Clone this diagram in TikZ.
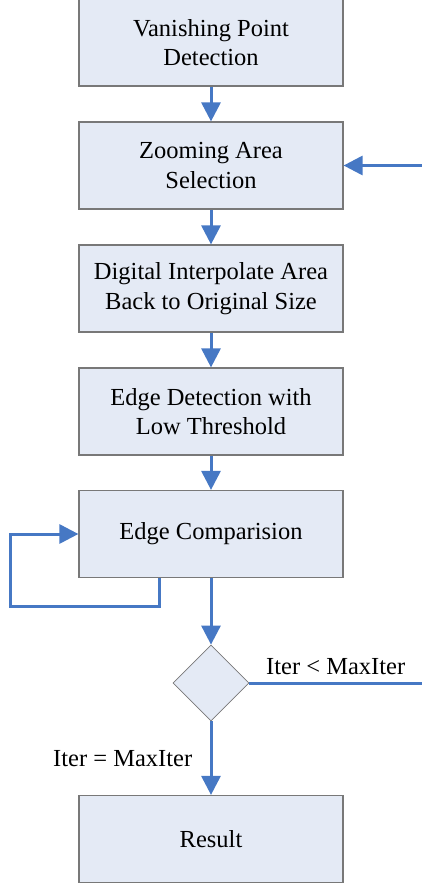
\documentclass[tikz,border=0pt]{standalone}
\usepackage{fontspec}
\setmainfont{Liberation Serif}
\usetikzlibrary{arrows.meta,shapes.geometric}
\definecolor{boxfill}{RGB}{228,234,245}
\definecolor{boxline}{RGB}{120,120,120}
\definecolor{flowblue}{RGB}{70,120,196}

\begin{document}
\begin{tikzpicture}[x=1pt,y=-1pt,
    stepbox/.style={draw=boxline,fill=boxfill,line width=1.2pt,minimum width=264pt,
      minimum height=87pt,align=center,inner sep=0pt,font=\fontsize{24.5}{29.5}\selectfont},
    decbox/.style={draw=boxline,fill=boxfill,line width=0.8pt,shape=diamond,
      minimum width=76pt,minimum height=76pt,inner sep=0pt},
    flow/.style={flowblue,line width=3pt,-{Triangle[length=19pt,width=19pt]}},
    lbl/.style={text=black,font=\fontsize{24.5}{29.5}\selectfont}]
  \useasboundingbox (0,0) rectangle (422,888);
  \node[stepbox] (vp) at (211,42.5) {Vanishing Point\\Detection};
  \node[stepbox] (zoom) at (211,165.5) {Zooming Area\\Selection};
  \node[stepbox] (interp) at (211,288.5) {Digital Interpolate Area\\Back to Original Size};
  \node[stepbox] (edge) at (211,411.5) {Edge Detection with\\Low Threshold};
  \node[stepbox] (cmp) at (211,534) {Edge Comparision};
  \node[decbox] (dec) at (211,683) {};
  \node[stepbox] (res) at (211,839) {Result};
  \coordinate (loopL) at (10,606);
  \coordinate (backR) at (424,683);
  \draw[flow] (vp) -- (zoom);
  \draw[flow] (zoom) -- (interp);
  \draw[flow] (interp) -- (edge);
  \draw[flow] (edge) -- (cmp);
  \draw[flow] (cmp) -- (dec);
  \draw[flow] ([xshift=81pt]cmp.south west) |- (loopL) |- (cmp.west);
  \draw[flow] (dec.east) -- node[lbl,above,inner sep=2pt,xshift=-1pt,yshift=5pt] {Iter < MaxIter} (backR) |- (zoom.east);
  \draw[flow] (dec) -- node[lbl,left=14pt] {Iter = MaxIter} (res);
\end{tikzpicture}
\end{document}
